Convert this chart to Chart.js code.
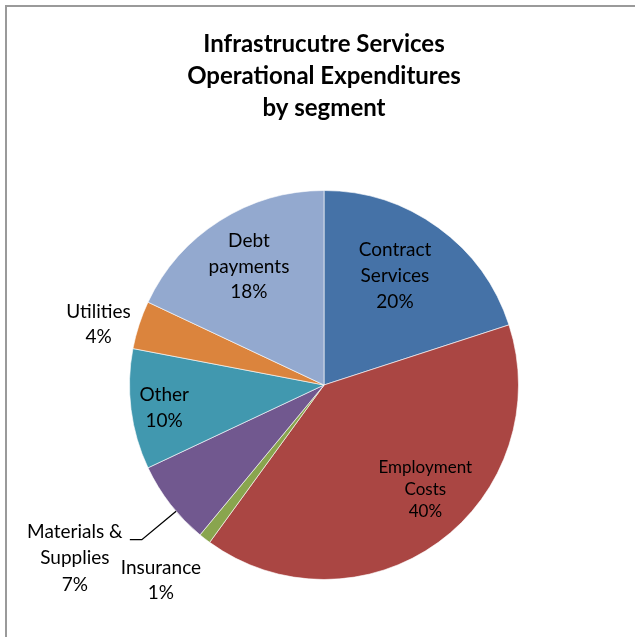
<!DOCTYPE html>
<html>
<head>
<meta charset="utf-8">
<script src="https://cdn.jsdelivr.net/npm/chart.js@4/dist/chart.umd.min.js"></script>
<style>
  html, body { margin: 0; padding: 0; background: #ffffff; }
  #wrap { position: relative; width: 635px; height: 637px; }
</style>
</head>
<body>
<div id="wrap"><canvas id="pie" width="635" height="637"></canvas></div>
<script>
// Operational expenditure share by segment (percent), clockwise from 12 o'clock
const segments = ['Contract Services', 'Employment Costs', 'Insurance', 'Materials & Supplies', 'Other', 'Utilities', 'Debt payments'];
const shares = [20, 40, 1, 7, 10, 4, 18];
// Label text lines for each slice
const labelLines = [
  ['Contract', 'Services'],
  ['Employment', 'Costs'],
  ['Insurance'],
  ['Materials &', 'Supplies'],
  ['Other'],
  ['Utilities'],
  ['Debt', 'payments']
];
const titleLines = ['Infrastrucutre Services', 'Operational Expenditures', 'by segment'];

const sliceColors = ['#4572A7', '#AA4643', '#89A54E', '#71588F', '#4198AF', '#DB843D', '#93A9CF'];

// Label placement: radius as fraction of the pie radius, angle nudge (deg), font size, line height
const labelPlace = [
  { r: 0.67, da: -3, size: 19, lh: 26 },
  { r: 0.75, da: -8, size: 17, lh: 22 },
  { r: 1.31, da: 2,  size: 19, lh: 25 },
  { r: 1.56, da: 3,  size: 19, lh: 26.5 },
  { r: 0.83, da: -1, size: 19, lh: 25.5 },
  { r: 1.20, da: -3, size: 19, lh: 25 },
  { r: 0.72, da: 0,  size: 19, lh: 25.5 }
];
const FONT = 'Lato, "Open Sans", sans-serif';

// Thin gray frame along the top and left edges
const framePlugin = {
  id: 'frame',
  beforeDraw(chart) {
    const ctx = chart.ctx;
    ctx.save();
    ctx.strokeStyle = '#9a9a9a';
    ctx.lineWidth = 2;
    ctx.beginPath();
    ctx.moveTo(6, chart.height + 5);
    ctx.lineTo(6, 6);
    ctx.lineTo(chart.width + 5, 6);
    ctx.stroke();
    ctx.restore();
  }
};

// Category name + percentage drawn on or beside each slice
const sliceLabelPlugin = {
  id: 'sliceLabels',
  afterDatasetsDraw(chart) {
    const ctx = chart.ctx;
    const meta = chart.getDatasetMeta(0);
    const total = shares.reduce((a, b) => a + b, 0);
    ctx.save();
    ctx.fillStyle = '#000000';
    ctx.textAlign = 'center';
    ctx.textBaseline = 'middle';
    meta.data.forEach((arc, i) => {
      const p = labelPlace[i];
      const mid = (arc.startAngle + arc.endAngle) / 2 + p.da * Math.PI / 180;
      const rad = arc.outerRadius * p.r;
      const cx = arc.x + Math.cos(mid) * rad;
      const cy = arc.y + Math.sin(mid) * rad;
      const lines = labelLines[i].concat([Math.round(shares[i] / total * 100) + '%']);
      ctx.font = p.size + 'px ' + FONT;
      const y0 = cy - (lines.length - 1) * p.lh / 2;
      lines.forEach((t, k) => ctx.fillText(t, cx, y0 + k * p.lh));

      // Leader line for the materials slice label, from the slice edge
      if (i === 3) {
        const a = (arc.startAngle + arc.endAngle) / 2 - 2.7 * Math.PI / 180;
        const ex = arc.x + Math.cos(a) * arc.outerRadius;
        const ey = arc.y + Math.sin(a) * arc.outerRadius;
        const ly = y0 + 8;
        ctx.strokeStyle = '#000000';
        ctx.lineWidth = 1.3;
        ctx.beginPath();
        ctx.moveTo(ex, ey);
        ctx.lineTo(cx + 67, ly);
        ctx.lineTo(cx + 55, ly);
        ctx.stroke();
      }
    });
    ctx.restore();
  }
};

new Chart(document.getElementById('pie'), {
  type: 'pie',
  data: {
    labels: segments,
    datasets: [{
      data: shares,
      backgroundColor: sliceColors,
      borderColor: 'rgba(255,255,255,0.6)',
      borderWidth: 1
    }]
  },
  options: {
    responsive: false,
    animation: false,
    rotation: 0,
    layout: { padding: { left: 13, right: 0, top: 0, bottom: 57 } },
    plugins: {
      legend: { display: false },
      tooltip: { enabled: false },
      title: {
        display: true,
        text: titleLines,
        color: '#000000',
        font: { family: FONT, size: 24, weight: 'bold', lineHeight: 32 / 24 },
        padding: { top: 28, bottom: 66 }
      }
    }
  },
  plugins: [framePlugin, sliceLabelPlugin]
});
</script>
</body>
</html>
